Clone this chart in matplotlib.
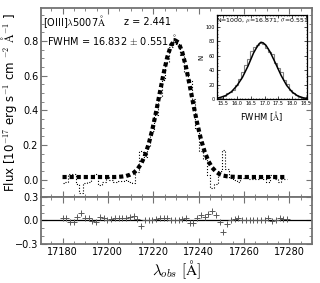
import numpy as np
import matplotlib.pyplot as plt
from matplotlib.ticker import MultipleLocator

plt.rcParams['font.family'] = 'DejaVu Sans'
plt.rcParams['mathtext.fontset'] = 'cm'

# --- spectrum (observed wavelength grid, 1.65 A per pixel) ---
wave = np.arange(61) * 1.65 + 17180.0

# best-fit gaussian model at each pixel
model = [0.015] * 15 + [
    0.016, 0.018, 0.021, 0.028, 0.039, 0.059, 0.091, 0.138, 0.204, 0.288,
    0.390, 0.501, 0.611, 0.707, 0.775, 0.804, 0.791, 0.735, 0.649, 0.542,
    0.430, 0.324, 0.232, 0.160, 0.106, 0.069, 0.046, 0.031, 0.023, 0.019,
    0.017, 0.016] + [0.015] * 14

# residual (model - data)
resid = [
    0.034, 0.026, -0.017, -0.017, 0.043, 0.090, 0.034, 0.026, -0.009, -0.017,
    0.047, 0.026, 0.000, 0.017, 0.026, 0.026, 0.026, 0.026, 0.043, 0.056,
    0.013, -0.073, 0.009, 0.009, 0.009, 0.017, 0.026, 0.034, 0.026, 0.009,
    0.000, 0.009, 0.017, 0.026, -0.034, -0.034, 0.026, 0.069, 0.043, 0.077,
    0.120, 0.069, -0.017, -0.146, -0.043, 0.009, 0.017, 0.026, 0.004, 0.000,
    0.009, 0.009, 0.009, 0.000, 0.009, 0.026, -0.009, 0.009, 0.026, 0.013,
    0.013]

flux = np.array(model) - np.array(resid)

# --- monte carlo FWHM distribution (inset) ---
hist_edges = np.linspace(15.28, 18.53, 31)
hist_counts = [1, 2, 4, 8, 10, 13, 20, 27, 38, 47, 55, 67, 72, 74, 77,
               76, 71, 65, 62, 50, 43, 37, 26, 21, 13, 9, 6, 3, 2, 1]
fit_x = [15.28, 15.4, 15.6, 15.8, 16.0, 16.2, 16.4, 16.6, 16.7, 16.8, 16.87,
         16.95, 17.05, 17.2, 17.4, 17.6, 17.8, 18.0, 18.2, 18.4, 18.53]
fit_y = [1.2, 2.2, 4.9, 10.0, 18.3, 29.9, 45.4, 63.4, 70.2, 76.1, 78.4,
         77.6, 74.2, 65.1, 49.1, 32.5, 18.8, 9.6, 4.3, 1.7, 0.9]

spine_col = "0.45"

fig = plt.figure(figsize=(3.2, 2.83), dpi=100)
ax = fig.add_axes([0.128, 0.304, 0.847, 0.668])
axr = fig.add_axes([0.128, 0.138, 0.847, 0.166], sharex=ax)

# main panel
ax.plot(wave, flux, color="black", linestyle=":", linewidth=0.8, drawstyle="steps-mid")
ax.plot(wave, model, color="black", linewidth=3.0, dashes=(1, 0.7))
ax.set_xlim(17170.5, 17290)
ax.set_ylim(-0.1, 0.99)
ax.yaxis.set_major_locator(MultipleLocator(0.2))
ax.yaxis.set_minor_locator(MultipleLocator(0.05))
ax.xaxis.set_major_locator(MultipleLocator(20))
ax.xaxis.set_minor_locator(MultipleLocator(5))
ax.set_ylabel(r"Flux [10$^{-17}$ erg s$^{-1}$ cm $^{-2}$ $\mathrm{\AA}^{-1}$ ]", fontsize=8.5,
              labelpad=3)
ax.tick_params(labelbottom=False)

ax.text(0.009, 0.926, r"[OIII]$\lambda$5007$\mathrm{\AA}$", transform=ax.transAxes,
        fontsize=7, va="center", ha="left")
ax.text(0.305, 0.926, "z = 2.441", transform=ax.transAxes, fontsize=7, va="center", ha="left")
ax.text(0.022, 0.833, r"FWHM = 16.832 $\pm$ 0.551 $\mathrm{\AA}$", transform=ax.transAxes,
        fontsize=7, va="center", ha="left")

# residual panel
axr.axhline(0, color="black", linewidth=0.9)
axr.plot(wave, resid, linestyle="none", marker="+", markersize=5, markeredgewidth=0.7, color="0.35")
axr.set_ylim(-0.3, 0.3)
axr.set_yticks([-0.3, 0.0, 0.3])
axr.yaxis.set_minor_locator(MultipleLocator(0.1))
axr.set_xlabel(r"$\lambda_{obs}\ [\mathrm{\AA}]$", fontsize=11, labelpad=1)

for a in (ax, axr):
    a.tick_params(which="both", direction="in", top=True, right=True, labelsize=7,
                  color=spine_col, pad=2)
    a.tick_params(which="major", length=4, width=0.8)
    a.tick_params(which="minor", length=2, width=0.6)
    for s in a.spines.values():
        s.set_color(spine_col)
        s.set_linewidth(1.3)

# inset
axi = fig.add_axes([0.678, 0.650, 0.281, 0.297])
axi.stairs(hist_counts, hist_edges, color="0.5", linewidth=0.8)
axi.plot(fit_x, fit_y, color="black", linewidth=1.1)
axi.set_xlim(15.28, 18.53)
axi.set_ylim(0, 116)
axi.xaxis.set_major_locator(MultipleLocator(0.5))
axi.xaxis.set_minor_locator(MultipleLocator(0.1))
axi.yaxis.set_major_locator(MultipleLocator(20))
axi.yaxis.set_minor_locator(MultipleLocator(5))
axi.xaxis.set_major_formatter("{x:.1f}")
axi.tick_params(which="both", direction="in", top=True, right=True, labelsize=3.5, pad=1.5)
axi.tick_params(which="major", length=2, width=0.5)
axi.tick_params(which="minor", length=1, width=0.4)
for s in axi.spines.values():
    s.set_linewidth(0.9)
axi.set_xlabel(r"FWHM [$\mathrm{\AA}$]", fontsize=6, labelpad=2)
axi.set_ylabel("N", fontsize=5, labelpad=1)
axi.text(0.5, 0.93, r"N=1000, $\mu$=16.871, $\sigma$=0.551", transform=axi.transAxes,
         fontsize=4.5, ha="center", va="center")

fig.savefig("out.png", dpi=100)
